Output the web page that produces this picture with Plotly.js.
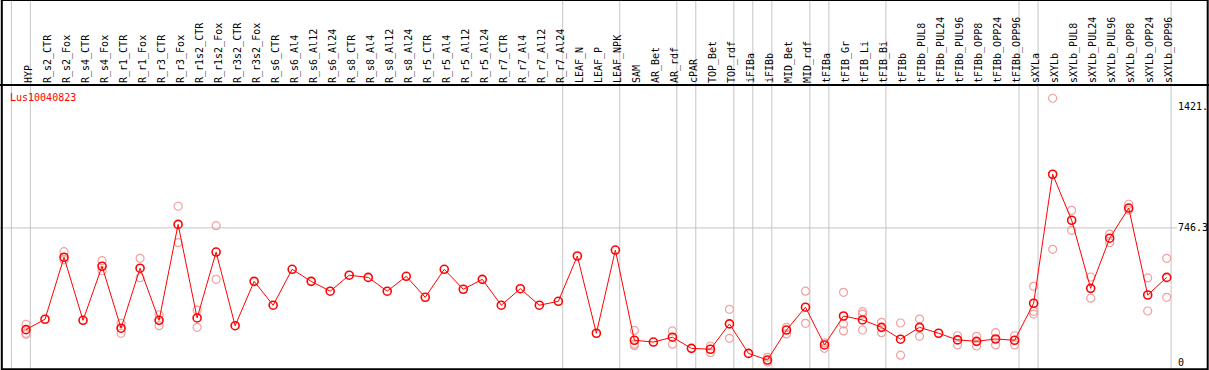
<!DOCTYPE html>
<html>
<head>
<meta charset="utf-8">
<script src="https://cdn.plot.ly/plotly-3.0.1.min.js"></script>
<style>
  html, body { margin: 0; padding: 0; background: #ffffff; }
  #chart { width: 1209px; height: 370px; }
</style>
</head>
<body>
<div id="chart"></div>
<script>
// ---- data ----
const geneId = 'Lus10040823';

const categories = [
  'HYP', 'R_s2_CTR', 'R_s2_Fox', 'R_s4_CTR', 'R_s4_Fox', 'R_r1_CTR', 'R_r1_Fox',
  'R_r3_CTR', 'R_r3_Fox', 'R_r1s2_CTR', 'R_r1s2_Fox', 'R_r3s2_CTR', 'R_r3s2_Fox',
  'R_s6_CTR', 'R_s6_Al4', 'R_s6_Al12', 'R_s6_Al24', 'R_s8_CTR', 'R_s8_Al4',
  'R_s8_Al12', 'R_s8_Al24', 'R_r5_CTR', 'R_r5_Al4', 'R_r5_Al12', 'R_r5_Al24',
  'R_r7_CTR', 'R_r7_Al4', 'R_r7_Al12', 'R_r7_Al24', 'LEAF_N', 'LEAF_P', 'LEAF_NPK',
  'SAM', 'AR_Bet', 'AR_rdf', 'cPAR', 'TOP_Bet', 'TOP_rdf', 'iFIBa', 'iFIBb',
  'MID_Bet', 'MID_rdf', 'tFIBa', 'tFIB_Gr', 'tFIB_Li', 'tFIB_Bi', 'tFIBb',
  'tFIBb_PUL8', 'tFIBb_PUL24', 'tFIBb_PUL96', 'tFIBb_OPP8', 'tFIBb_OPP24', 'tFIBb_OPP96',
  'sXYLa', 'sXYLb', 'sXYLb_PUL8', 'sXYLb_PUL24', 'sXYLb_PUL96', 'sXYLb_OPP8',
  'sXYLb_OPP24', 'sXYLb_OPP96'
];

const meanValues = [
  180, 238, 583, 232, 533, 188, 522, 232, 766, 245, 612, 202, 449,
  316, 516, 449, 394, 483, 471, 394, 477, 360, 516, 405, 460,
  316, 408, 316, 338, 590, 160, 623,
  121, 111, 138, 76, 71, 212, 48, 11,
  178, 305, 95, 256, 234, 193, 127,
  193, 160, 123, 115, 128, 121,
  327, 1045, 789, 410, 689, 857, 373, 471
];

const replicates = [
  [210, 160, 154], [], [614, 568], [], [564, 508], [215, 160], [577, 469],
  [263, 202], [867, 664], [289, 193], [759, 460], [], [],
  [], [], [], [], [], [],
  [], [], [], [], [], [],
  [], [], [], [], [], [], [],
  [176, 99, 91], [], [173, 99], [], [89, 52], [293, 132], [], [26, 0],
  [193, 156], [394, 215], [106, 76], [388, 212, 173], [280, 266, 178], [221, 163], [217, 38],
  [239, 143], [], [146, 95], [143, 89], [163, 95], [146, 95],
  [421, 282, 267], [1468, 627], [844, 733], [473, 355], [712, 664], [878, 846],
  [468, 284], [577, 360]
];

// number of consecutive categories in each sample group (separated by grey lines)
const groupSizes = [1, 28, 3, 3, 1, 2, 1, 1, 2, 1, 3, 7, 1, 7];

const yTickValues = [0, 746.3, 1421];
const yTickLabels = ['0', '746.3', '1421.'];
const gridValue = 746.3;

// ---- build traces ----
const idx = categories.map((c, i) => i);
const repX = [], repY = [];
replicates.forEach((vals, i) => vals.forEach(v => { repX.push(i); repY.push(v); }));

const W = 1209, H = 370;
const mL = 0, mR = 32, mT = 85, mB = 0;
const plotW = W - mL - mR, plotH = H - mT - mB;
const colW = 19.012;           // pixel width of one category column
const firstX = 26;             // pixel centre of the first category
const xRange = [(mL - firstX) / colW, (mL + plotW - firstX) / colW];
const unitsPerPx = 5.566;
const zeroPx = 362;            // pixel row of value 0
const yRange = [(zeroPx - H) * unitsPerPx, (zeroPx - mT) * unitsPerPx];
const labelNudge = 2.5 / colW; // category labels sit slightly right of their tick

const sepOffset = 0.23;
const sepPositions = [];
let end = -1;
sepPositions.push(end + sepOffset);
groupSizes.forEach(n => { end += n; sepPositions.push(end + sepOffset); });

const font = 'DejaVu Sans Mono, monospace';
const px2paperX = p => (p - mL) / plotW;
const px2paperY = p => (H - mB - p) / plotH;

const shapes = [];
sepPositions.forEach(s => shapes.push({
  type: 'line', xref: 'x', yref: 'paper', x0: s, x1: s,
  y0: px2paperY(H), y1: px2paperY(0), layer: 'below',
  line: { color: '#c4c4c4', width: 1 }
}));
shapes.push({
  type: 'line', xref: 'paper', yref: 'y', x0: 0, x1: 1, y0: gridValue, y1: gridValue,
  layer: 'below', line: { color: '#c4c4c4', width: 1 }
});
// frame and header separator
shapes.push({
  type: 'rect', xref: 'paper', yref: 'paper',
  x0: px2paperX(1.8), x1: px2paperX(1207.7), y0: px2paperY(369.2), y1: px2paperY(0),
  line: { color: '#000000', width: 2 }, fillcolor: 'rgba(0,0,0,0)'
});
shapes.push({
  type: 'line', xref: 'paper', yref: 'paper',
  x0: px2paperX(0), x1: px2paperX(W), y0: 1, y1: 1,
  line: { color: '#000000', width: 2 }
});

const traces = [
  {
    type: 'scatter', mode: 'markers', x: repX, y: repY, hoverinfo: 'skip',
    marker: { symbol: 'circle-open', size: 8, color: '#f2a0a0', line: { width: 1.2, color: '#f2a0a0' } },
    cliponaxis: false
  },
  {
    type: 'scatter', mode: 'lines+markers', x: idx, y: meanValues,
    line: { color: '#ff0000', width: 1 },
    marker: { symbol: 'circle-open', size: 8, color: '#ff0000', line: { width: 1.6, color: '#ff0000' } },
    cliponaxis: false
  }
];

const layout = {
  width: W, height: H,
  margin: { l: mL, r: mR, t: mT, b: mB, pad: 0 },
  paper_bgcolor: '#ffffff', plot_bgcolor: '#ffffff',
  showlegend: false,
  xaxis: {
    side: 'top', range: xRange, tickmode: 'array',
    tickvals: idx.map(i => i + labelNudge), ticktext: categories,
    tickangle: -90, tickfont: { family: font, size: 10, color: '#000000' },
    ticklabelstandoff: 1,
    showgrid: false, zeroline: false, showline: false, ticks: '', fixedrange: true
  },
  yaxis: {
    side: 'right', range: yRange, tickmode: 'array', tickvals: yTickValues, ticktext: yTickLabels,
    tickfont: { family: font, size: 10, color: '#000000' },
    showgrid: false, zeroline: false, showline: false, ticks: '', fixedrange: true
  },
  shapes: shapes,
  annotations: [{
    xref: 'paper', yref: 'paper', x: px2paperX(7.5), y: px2paperY(97),
    xanchor: 'left', yanchor: 'middle', showarrow: false, text: geneId,
    font: { family: font, size: 10, color: '#ff0000' }
  }]
};

Plotly.newPlot('chart', traces, layout, { displayModeBar: false, staticPlot: true });
</script>
</body>
</html>
